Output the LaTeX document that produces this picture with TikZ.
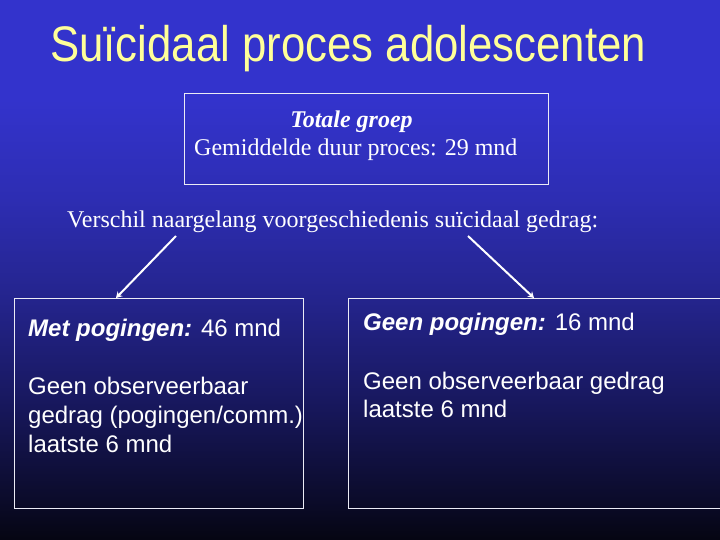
\documentclass[tikz,border=0pt]{standalone}
\usepackage{fontspec}
\setmainfont{Liberation Serif}
\setsansfont{Liberation Sans}
\usetikzlibrary{arrows.meta}
\definecolor{bgA}{RGB}{5,5,18}
\definecolor{bgB}{RGB}{11,11,42}
\definecolor{bgC}{RGB}{24,24,95}
\definecolor{bgD}{RGB}{36,36,140}
\definecolor{bgE}{RGB}{45,45,178}
\definecolor{bgF}{RGB}{51,51,204}
\definecolor{titleyellow}{RGB}{255,255,153}
\definecolor{boxline}{RGB}{235,235,245}
\pgfdeclareverticalshading{bgshade}{100bp}{color(0bp)=(bgA); color(25bp)=(bgA); color(28.7bp)=(bgB); color(37.96bp)=(bgC); color(47.22bp)=(bgD); color(56.48bp)=(bgE); color(65.74bp)=(bgF); color(100bp)=(bgF)}
\tikzset{
  panel/.style={draw=boxline, line width=1pt, inner sep=0pt},
  sanstext/.style={text=white, inner sep=0pt, anchor=base west, font=\sffamily\fontsize{24}{29}\selectfont},
  seriftext/.style={text=white, inner sep=0pt, font=\rmfamily\fontsize{24}{29}\selectfont},
  pointer/.style={draw=white, line width=2pt, -{Stealth[length=6pt,width=7pt]}}
}
\begin{document}
\begin{tikzpicture}[x=1pt,y=-1pt]
\useasboundingbox (0,0) rectangle (720,540);
\shade[shading=bgshade] (0,0) rectangle (720,540);

% title
\node[inner sep=0pt, anchor=base west, text=titleyellow] (title) at (50,62)
  {\scalebox{0.875}[1]{\sffamily\fontsize{50}{60}\selectfont Suïcidaal proces adolescenten}};

% top box
\draw[panel] (184,94) rectangle (548,185);
\node[seriftext, anchor=base] (tot) at (351.5,128) {\textbf{\textit{Totale groep}}};
\node[seriftext, anchor=base west] (gem) at (194,156) {Gemiddelde duur proces: 29 mnd};

% subtitle
\node[seriftext, anchor=base west] (versch) at (67,228) {Verschil naargelang voorgeschiedenis suïcidaal gedrag:};

% lower boxes
\node[panel, anchor=north west, minimum width=289pt, minimum height=210pt] (lbox) at (14,298) {};
\node[panel, anchor=north west, minimum width=380pt, minimum height=210pt] (rbox) at (348,298) {};

% arrows
\coordinate (s1) at (176,236);
\coordinate (s2) at (468,236);
\draw[pointer] (s1) -- (lbox.north west -| 116,0);
\draw[pointer] (s2) -- (rbox.north west -| 534,0);

% left box text
\node[sanstext] (l1) at (28,336) {\textbf{\textit{Met pogingen:}} 46 mnd};
\node[sanstext] (l2) at (28,394) {Geen observeerbaar};
\node[sanstext] (l3) at (28,423) {gedrag (pogingen/comm.)};
\node[sanstext] (l4) at (28,452) {laatste 6 mnd};

% right box text
\node[sanstext] (r1) at (363,330) {\textbf{\textit{Geen pogingen:}} 16 mnd};
\node[sanstext] (r2) at (363,389) {Geen observeerbaar gedrag};
\node[sanstext] (r3) at (363,417) {laatste 6 mnd};
\end{tikzpicture}
\end{document}
